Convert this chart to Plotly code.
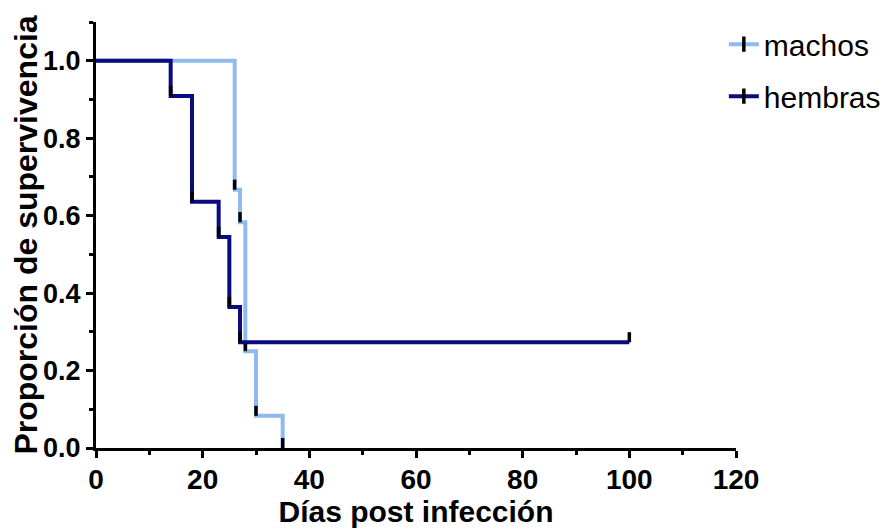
import plotly.graph_objects as go

# Kaplan-Meier data
machos_t = [0, 26, 27, 28, 30, 35]
machos_s = [1.0, 0.667, 0.583, 0.25, 0.083, 0.0]
hembras_t = [0, 14, 18, 23, 25, 27, 100]
hembras_s = [1.0, 0.909, 0.636, 0.545, 0.364, 0.273, 0.273]

names = ["machos", "hembras"]
colors = ["#8FBAEE", "#0B0B80"]
x_ticks = [0, 20, 40, 60, 80, 100, 120]
y_ticks = [0.0, 0.2, 0.4, 0.6, 0.8, 1.0]

series = [(machos_t, machos_s), (hembras_t, hembras_s)]

fig = go.Figure()
for (t, s), name, col in zip(series, names, colors):
    fig.add_trace(go.Scatter(
        x=t, y=s, mode="lines", line=dict(color=col, width=4, shape="hv"),
        showlegend=False, cliponaxis=False, hoverinfo="skip"))
    fig.add_trace(go.Scatter(
        x=t[1:], y=s[1:], mode="markers", marker=dict(size=0.1, color=col, opacity=0),
        error_y=dict(type="constant", value=0.026, valueminus=0, symmetric=False,
                     color="black", thickness=3.5, width=0),
        showlegend=False, cliponaxis=False, hoverinfo="skip"))

for name, col in zip(names, colors):
    fig.add_trace(go.Scatter(
        x=[None], y=[None], mode="lines+markers", name=name, legendgroup=name,
        line=dict(color=col, width=4),
        marker=dict(symbol="line-ns", size=11, color="black",
                    line=dict(color="black", width=3.5))))

# page body has an 8px default margin, so the figure is sized to fit the window
fig.update_layout(
    width=882, height=523,
    margin=dict(l=88, r=154, t=14, b=83, autoexpand=False),
    paper_bgcolor="white", plot_bgcolor="white",
    font=dict(family="Liberation Sans, Arial, sans-serif", color="black"),
    showlegend=True,
    legend=dict(x=0.981, y=1.009, xanchor="left", yanchor="top",
                font=dict(size=30, color="black"), tracegroupgap=10,
                traceorder="grouped", bgcolor="rgba(0,0,0,0)", itemwidth=30),
    xaxis=dict(range=[0, 120], tickvals=x_ticks, ticktext=[str(v) for v in x_ticks],
               showline=True, linecolor="black", linewidth=3, automargin=True,
               ticks="outside", ticklen=7, tickwidth=3, tickcolor="black",
               ticklabelstandoff=-3,
               minor=dict(dtick=10, ticks="outside", ticklen=4, tickwidth=3, tickcolor="black"),
               showgrid=False, zeroline=False,
               tickfont=dict(size=28, weight="bold"),
               title=dict(text="Días post infección", font=dict(size=30, weight="bold"), standoff=0)),
    yaxis=dict(range=[0, 1.1], tickvals=y_ticks, ticktext=[f"{v:.1f}" for v in y_ticks],
               showline=True, linecolor="black", linewidth=3, automargin=True,
               ticks="outside", ticklen=7, tickwidth=3, tickcolor="black",
               minor=dict(dtick=0.1, ticks="outside", ticklen=4, tickwidth=3, tickcolor="black"),
               showgrid=False, zeroline=False,
               tickfont=dict(size=27, weight="bold"),
               title=dict(text="Proporción de supervivencia", font=dict(size=32, weight="bold"), standoff=12)),
)

fig.write_html("out.html")
